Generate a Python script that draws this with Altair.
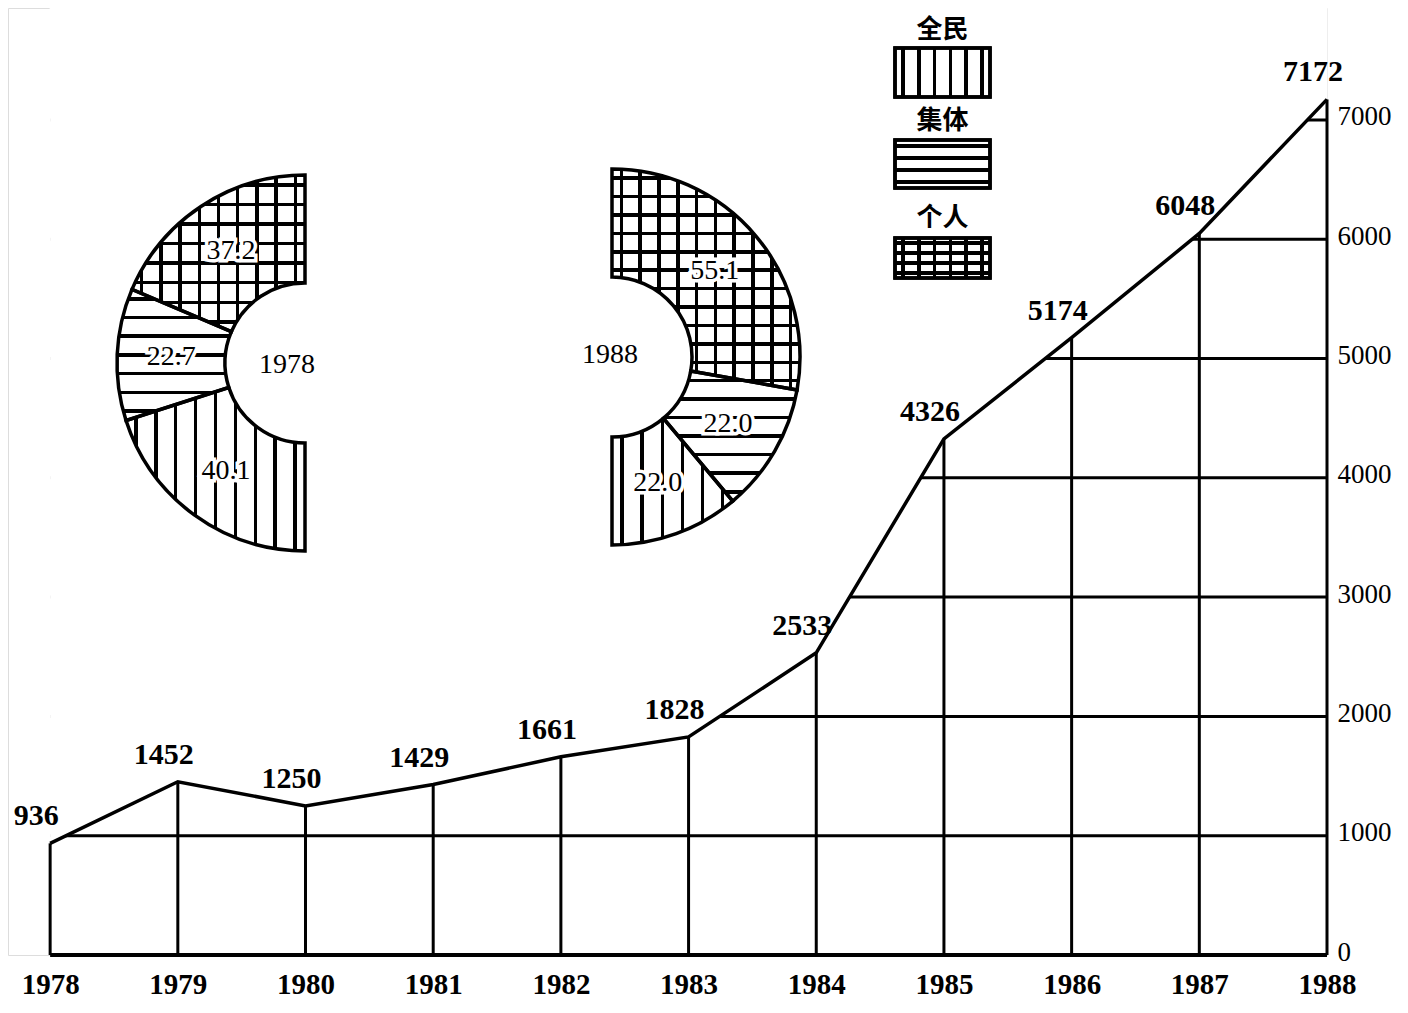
import math
import altair as alt
import pandas as pd

# ---------------- data ----------------
years = [1978, 1979, 1980, 1981, 1982, 1983, 1984, 1985, 1986, 1987, 1988]
values = [936, 1452, 1250, 1429, 1661, 1828, 2533, 4326, 5174, 6048, 7172]
y_ticks = [0, 1000, 2000, 3000, 4000, 5000, 6000, 7000]
grid_levels = [1000, 2000, 3000, 4000, 5000, 6000, 7000]
sectors = ["全民", "集体", "个人"]
share_1978 = [40.1, 22.7, 37.2]
share_1988 = [22.0, 22.0, 55.1]
donut_years = [1978, 1988]

# ---------------- layout / style ----------------
W, H = 1319, 947
X_LO, X_HI = 1977.67, 1988.0
Y_HI = 7938
NUM_FONT = "Liberation Serif"
CJK_FONT = "Noto Sans CJK SC"
CLEAR = "rgba(255,255,255,0)"
R_OUT, R_IN = 188, 80
R_LABEL = 134
SPACING = 19
LW = 3.5
DONUT = {
    1978: dict(cx=297, cy=355, start=math.pi, order=[0, 1, 2], lx=279, ly=357),
    1988: dict(cx=604, cy=349, start=0.0, order=[2, 1, 0], lx=602, ly=347),
}
SHARES = {1978: share_1978, 1988: share_1988}
PATTERN = {"全民": ["v"], "集体": ["h"], "个人": ["v", "h"]}
LEG_X0, LEG_X1 = 887, 982
LEG_BOX = [(40, 89), (132, 180), (230, 270)]
LEG_LABEL_Y = [22, 113, 210]
LEG_N = {"全民": {"v": 5}, "集体": {"h": 3}, "个人": {"v": 5, "h": 3}}

line_df = pd.DataFrame({"year": years, "value": values})
grid_df = pd.DataFrame({"level": grid_levels, "x0": years[0], "x1": years[-1]})
donut_rows = []
for g in donut_years:
    for i, s in enumerate(sectors):
        donut_rows.append({"group": g, "sector": s, "share": SHARES[g][i],
                           "ord": DONUT[g]["order"][i]})
donut_df = pd.DataFrame(donut_rows)
legend_df = pd.DataFrame({"sector": sectors})

xs = alt.Scale(domain=[X_LO, X_HI], nice=False, zero=False)
ys = alt.Scale(domain=[0, Y_HI], nice=False, zero=False)
AX_X = alt.Axis(values=years, format="d", title=None, domain=False, ticks=False, grid=False,
                labelFont=NUM_FONT, labelFontSize=29, labelFontWeight="bold",
                labelColor="black", labelPadding=15,
                labelFlush=False, labelOverlap=False, labelBound=False)
AX_Y = alt.Axis(orient="right", values=y_ticks, format="d", title=None, domain=False,
                ticks=False, grid=False, labelFont=NUM_FONT, labelFontSize=27,
                labelColor="black", labelPadding=10, labelAlign="left", labelBaseline="middle",
                labelOffset=-3, labelFlush=False, labelOverlap=False, labelBound=False)


def X(f, **kw):
    return alt.X(f, scale=xs, axis=AX_X, **kw)


def Y(f, **kw):
    return alt.Y(f, scale=ys, axis=AX_Y, **kw)


def stripes(n, size, vertical):
    w = LW / size
    stops = [alt.GradientStop(offset=0, color=CLEAR)]
    for i in range(n):
        c = (i + 0.5) / n
        a, b = max(c - w / 2, 0), min(c + w / 2, 1)
        stops += [alt.GradientStop(offset=a, color=CLEAR),
                  alt.GradientStop(offset=a, color="black"),
                  alt.GradientStop(offset=b, color="black"),
                  alt.GradientStop(offset=b, color=CLEAR)]
    stops.append(alt.GradientStop(offset=1, color=CLEAR))
    if vertical:
        return alt.LinearGradient(gradient="linear", stops=stops, x1=0, y1=0, x2=1, y2=0)
    return alt.LinearGradient(gradient="linear", stops=stops, x1=0, y1=0, x2=0, y2=1)


def seg_angles(g):
    cfg = DONUT[g]
    sh = SHARES[g]
    total = sum(sh)
    idxs = sorted(range(len(sh)), key=lambda i: cfg["order"][i])
    cum = 0
    out = {}
    for i in idxs:
        t0 = cfg["start"] + math.pi * cum / total
        cum += sh[i]
        out[sectors[i]] = (t0, cfg["start"] + math.pi * cum / total)
    return out


def bbox(t0, t1):
    xsl, ysl = [], []
    for k in range(401):
        t = t0 + (t1 - t0) * k / 400
        for rr in (R_IN, R_OUT):
            xsl.append(rr * math.sin(t))
            ysl.append(-rr * math.cos(t))
    return max(xsl) - min(xsl), max(ysl) - min(ysl)


def donut_base(g):
    cfg = DONUT[g]
    return (
        alt.Chart(donut_df)
        .transform_filter(alt.datum.group == g)
        .transform_joinaggregate(total="sum(share)")
        .transform_window(cum="sum(share)", sort=[alt.SortField("ord")], frame=[None, 0])
        .transform_calculate(
            t0=f"{cfg['start']} + PI*(datum.cum - datum.share)/datum.total",
            t1=f"{cfg['start']} + PI*datum.cum/datum.total",
        )
        .transform_calculate(tm="(datum.t0 + datum.t1)/2")
    )


def arc_enc(g):
    cfg = DONUT[g]
    return dict(theta=alt.Theta("t0:Q", scale=None), theta2=alt.Theta2("t1:Q"),
                x=alt.value(cfg["cx"]), y=alt.value(cfg["cy"]))


layers = []

# grid lines (masked above the curve)
layers.append(
    alt.Chart(grid_df).mark_rule(color="black", strokeWidth=3).encode(
        x=X("x0:Q"), x2="x1:Q", y=Y("level:Q"))
)
layers.append(
    alt.Chart(line_df).mark_area(fill="white", opacity=1, stroke="white", strokeWidth=1).encode(
        x=X("year:Q"), y=Y("value:Q"), y2=alt.Y2(datum=Y_HI))
)
# drop lines
layers.append(
    alt.Chart(line_df).mark_rule(color="black", strokeWidth=3).encode(
        x=X("year:Q"), y=Y("value:Q"), y2=alt.Y2(datum=0))
)
# baseline
layers.append(
    alt.Chart(line_df).transform_aggregate(x0="min(year)", x1="max(year)")
    .mark_rule(color="black", strokeWidth=4).encode(
        x=X("x0:Q"), x2="x1:Q", y=alt.Y(datum=0, scale=ys, axis=AX_Y))
)
# main line
layers.append(
    alt.Chart(line_df).mark_line(color="black", strokeWidth=3.5).encode(
        x=X("year:Q"), y=Y("value:Q"))
)
# value labels
layers.append(
    alt.Chart(line_df).mark_text(font=NUM_FONT, fontSize=30, fontWeight="bold", color="black",
                                 dy=-27, dx=-14).encode(
        x=X("year:Q"), y=Y("value:Q"), text=alt.Text("value:Q", format="d"))
)

# donuts
for g in donut_years:
    cfg = DONUT[g]
    base = donut_base(g)
    layers.append(base.mark_arc(radius=R_OUT, radius2=R_IN, fill="white", strokeWidth=0)
                  .encode(**arc_enc(g)))
    angles = seg_angles(g)
    for s in sectors:
        bw, bh = bbox(*angles[s])
        for p in PATTERN[s]:
            if p == "v":
                grad = stripes(max(2, round(bw / SPACING)), bw, True)
            else:
                grad = stripes(max(2, round(bh / SPACING)), bh, False)
            layers.append(base.transform_filter(alt.datum.sector == s)
                          .mark_arc(radius=R_OUT, radius2=R_IN, fill=grad, strokeWidth=0)
                          .encode(**arc_enc(g)))
    layers.append(base.mark_arc(radius=R_OUT, radius2=R_IN, fillOpacity=0, fill="white",
                                stroke="black", strokeWidth=3.5).encode(**arc_enc(g)))
    for halo in (True, False):
        kw = dict(fill="white", stroke="white", strokeWidth=7) if halo else dict(fill="black")
        layers.append(base.mark_text(radius=R_LABEL, font=NUM_FONT, fontSize=28, **kw).encode(
            theta=alt.Theta("tm:Q", scale=None), x=alt.value(cfg["cx"]), y=alt.value(cfg["cy"]),
            text=alt.Text("share:Q", format=".1f")))
    layers.append(
        alt.Chart(donut_df).transform_filter(alt.datum.group == g)
        .transform_aggregate(n="count()", groupby=["group"])
        .mark_text(font=NUM_FONT, fontSize=28, color="black").encode(
            x=alt.value(cfg["lx"]), y=alt.value(cfg["ly"]), text="group:N")
    )

# legend
for i, s in enumerate(sectors):
    top, bot = LEG_BOX[i]
    src = alt.Chart(legend_df).transform_filter(alt.datum.sector == s)
    pos = dict(x=alt.value(LEG_X0), x2=alt.value(LEG_X1), y=alt.value(top), y2=alt.value(bot))
    layers.append(src.mark_rect(fill="white", stroke="black", strokeWidth=3.5).encode(**pos))
    for p, n in LEG_N[s].items():
        if p == "v":
            grad = stripes(n + 1, LEG_X1 - LEG_X0, True)
        else:
            grad = stripes(n + 1, bot - top, False)
        layers.append(src.mark_rect(fill=grad, strokeWidth=0).encode(**pos))
    layers.append(src.mark_rect(fill="white", fillOpacity=0, stroke="black", strokeWidth=3.5).encode(**pos))
    layers.append(src.mark_text(font=CJK_FONT, fontSize=26, fontWeight="bold", color="black").encode(
        x=alt.value((LEG_X0 + LEG_X1) / 2), y=alt.value(LEG_LABEL_Y[i]), text="sector:N"))

chart = (
    alt.layer(*layers)
    .properties(width=W, height=H,
                padding={"left": 0, "top": 0, "right": 72, "bottom": 50},
                autosize=alt.AutoSizeParams(type="none"))
    .configure_view(strokeWidth=0, stroke="transparent")
    .configure(background="white")
)

chart.save("out.html", embed_options={"renderer": "svg", "actions": False})
